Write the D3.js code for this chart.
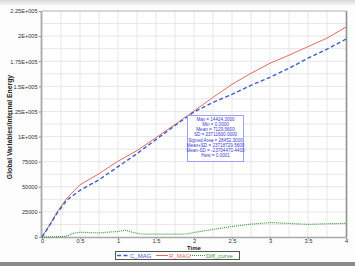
<!DOCTYPE html>
<html><head><meta charset="utf-8">
<script src="https://cdn.jsdelivr.net/npm/d3@7"></script>
<style>body{margin:0;background:#fff;}svg{display:block;}</style>
</head><body>
<script>
const timeR = [0,0.1,0.2,0.33,0.5,0.75,1.0,1.25,1.5,1.75,2.0,2.25,2.5,2.75,3.0,3.25,3.5,3.75,4.0];
const rMag  = [0,12000,25000,39000,52000,63000,75500,86000,99000,112000,125500,139000,152000,163000,173000,181000,189500,198000,209000];
const cMag  = [0,11500,24000,37000,46500,57000,70000,83000,97000,111000,124500,134000,142000,151000,159000,168000,178000,187000,197000];
const timeD = [0,0.1,0.2,0.3,0.35,0.4,0.5,0.6,0.75,0.9,1.0,1.1,1.2,1.3,1.5,1.75,1.9,2.0,2.25,2.5,2.75,3.0,3.25,3.5,3.75,4.0];
const diff  = [0,200,300,500,1500,3500,4700,4500,4000,5000,5500,6800,4500,3000,2800,2800,3000,4500,7500,10500,12800,14400,13500,12600,13200,13600];
const yTicks = [0,25000,50000,75000,100000,125000,150000,175000,200000,225000];
const yTickLabels = ["0","25000","50000","75000","1E+005","1.25E+005","1.5E+005","1.75E+005","2E+005","2.25E+005"];
const xTicks = [0,0.5,1,1.5,2,2.5,3,3.5,4];
const statLines = ["Max = 14424.3000","Min = 0.0000","Mean = 7129.5600","SD = 23711600.0000","Signed Area = 28452.3000","Mean+SD = 23718729.5600","Mean-SD = -23704470.4400","Hest = 0.0001"];
const legendItems = [{name:"C_MAG",color:"#3a5fcd",dash:"4,2.5",w:1.3},{name:"R_MAG",color:"#e46a64",dash:null,w:1},{name:"Diff_curve",color:"#3f9a3f",dash:"1,1",w:1.2}];

const W=355,H=266;
const svg=d3.select("body").append("svg").attr("width",W).attr("height",H).style("font-family","Arial, 'Liberation Sans', sans-serif");
const bg=svg.append("defs").append("linearGradient").attr("id","tg").attr("x1",0).attr("x2",0).attr("y1",0).attr("y2",1);
bg.append("stop").attr("offset","0").attr("stop-color","#d8d8d8");
bg.append("stop").attr("offset","1").attr("stop-color","#f4f4f4");
svg.append("rect").attr("width",W).attr("height",H).attr("fill","#fdfdfd");
svg.append("rect").attr("width",W).attr("height",5).attr("fill","url(#tg)");
svg.append("rect").attr("y",262).attr("width",W).attr("height",4).attr("fill","#8a8a8a");

const x=d3.scaleLinear().domain([0,4]).range([42,346]);
const y=d3.scaleLinear().domain([0,225000]).range([237,11]);

svg.append("rect").attr("x",42).attr("y",11).attr("width",304).attr("height",226).attr("fill","#fff");
const g=svg.append("g");
g.selectAll("line.vx").data(d3.range(1,16).map(i=>i*0.25)).join("line")
 .attr("x1",d=>x(d)).attr("x2",d=>x(d)).attr("y1",11).attr("y2",237).attr("stroke","#e6e6e6").attr("stroke-width",1);
g.selectAll("line.hy").data(d3.range(1,18).map(i=>i*12500)).join("line")
 .attr("x1",42).attr("x2",346).attr("y1",d=>y(d)).attr("y2",d=>y(d)).attr("stroke","#e6e6e6").attr("stroke-width",1);

const ya=d3.axisLeft(y).tickValues(yTicks).tickFormat((d,i)=>yTickLabels[i]).tickSize(3).tickPadding(1.5);
const yg=svg.append("g").attr("transform","translate(42,0)").call(ya);
yg.select(".domain").remove();
yg.selectAll("text").attr("font-size",5.6).attr("fill","#333");
yg.selectAll("line").attr("stroke","#888");
const xa=d3.axisBottom(x).tickValues(xTicks).tickFormat(d3.format("")).tickSize(2).tickPadding(0);
const xg=svg.append("g").attr("transform","translate(0,237)").call(xa);
xg.select(".domain").remove();
xg.selectAll("text").attr("font-size",5.8).attr("fill","#333");
xg.selectAll("line").attr("stroke","#888");

svg.append("line").attr("x1",42).attr("x2",346).attr("y1",11).attr("y2",11).attr("stroke","#b0b0b0");
svg.append("line").attr("x1",346.5).attr("x2",346.5).attr("y1",11).attr("y2",237).attr("stroke","#909090").attr("stroke-width",1.6);
svg.append("line").attr("x1",41.5).attr("x2",41.5).attr("y1",11).attr("y2",238).attr("stroke","#a8a8a8").attr("stroke-width",1.8);
svg.append("line").attr("x1",41).attr("x2",347).attr("y1",237.5).attr("y2",237.5).attr("stroke","#a8a8a8").attr("stroke-width",1.5);

const line=d3.line().x(d=>x(d[0])).y(d=>y(d[1]));
svg.append("path").attr("d",line(timeD.map((t,i)=>[t,diff[i]]))).attr("fill","none").attr("stroke","#3f9a3f").attr("stroke-width",1.2).attr("stroke-dasharray","1,1");
svg.append("path").attr("d",line(timeR.map((t,i)=>[t,rMag[i]]))).attr("fill","none").attr("stroke","#e46a64").attr("stroke-width",1);
svg.append("path").attr("d",line(timeR.map((t,i)=>[t,cMag[i]]))).attr("fill","none").attr("stroke","#3a5fcd").attr("stroke-width",1.4).attr("stroke-dasharray","4,2.5");

const sb=svg.append("g");
sb.append("rect").attr("x",187.5).attr("y",115.5).attr("width",56).attr("height",46).attr("fill","#fff").attr("stroke","#a0a0ff").attr("stroke-width",1);
sb.selectAll("text").data(statLines).join("text").attr("x",215.5).attr("y",(d,i)=>120.5+i*5.25)
 .attr("text-anchor","middle").attr("font-size",4.6).attr("fill","#3a3ad0").text(d=>d);

svg.append("text").attr("x",194).attr("y",250).attr("text-anchor","middle").attr("font-size",6).attr("font-weight","bold").attr("fill","#222").text("Time");
svg.append("text").attr("transform","translate(12,127) rotate(-90)").attr("text-anchor","middle").attr("font-size",6.8).attr("font-weight","bold").attr("fill","#222").text("Global Variables/Internal Energy");

const lg=svg.append("g");
lg.append("rect").attr("x",115.5).attr("y",251.5).attr("width",124).attr("height",8).attr("fill","#fff").attr("stroke","#555").attr("stroke-width",1);
const lx=[117,156,190];
const ll=[12,12,15];
legendItems.forEach((it,i)=>{
  const l=lg.append("line").attr("x1",lx[i]).attr("x2",lx[i]+ll[i]).attr("y1",255.5).attr("y2",255.5).attr("stroke",it.color).attr("stroke-width",it.w);
  if(it.dash) l.attr("stroke-dasharray",it.dash);
  lg.append("text").attr("x",lx[i]+ll[i]+1).attr("y",257.7).attr("font-size",6).attr("fill",it.color).text(it.name);
});
</script>
</body></html>
